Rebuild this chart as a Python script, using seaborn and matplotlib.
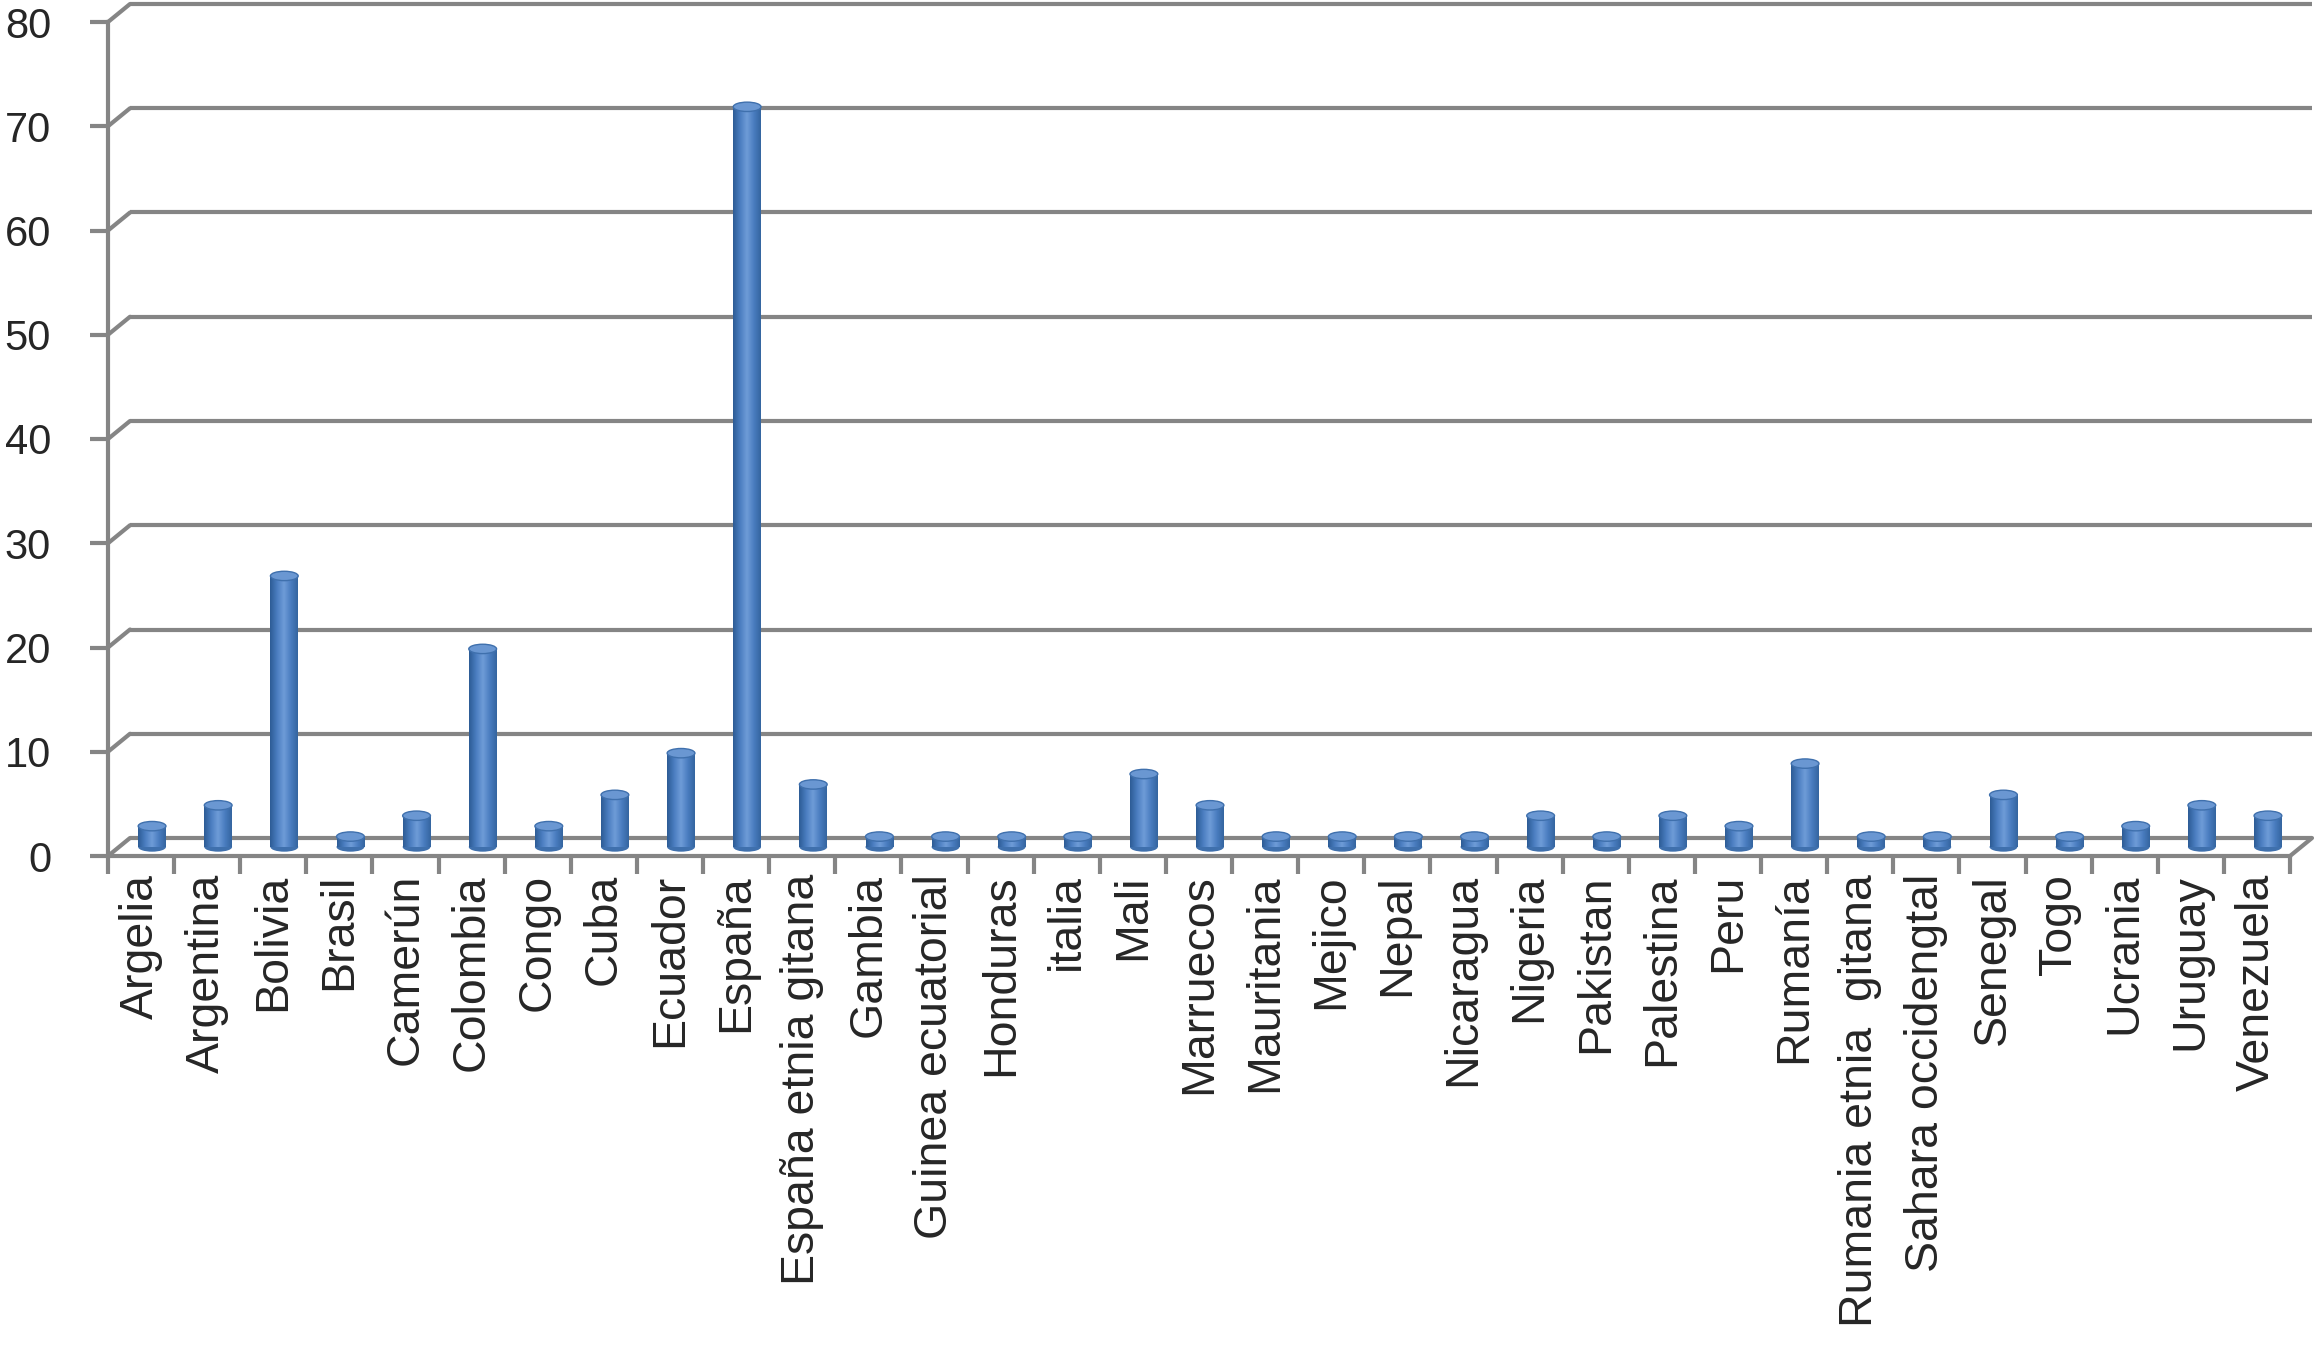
import numpy as np
import pandas as pd
import matplotlib
matplotlib.use('Agg')
import matplotlib.pyplot as plt
import seaborn as sns
from matplotlib.patches import Ellipse
from matplotlib.transforms import ScaledTranslation
from matplotlib.colors import LinearSegmentedColormap

# data
countries = ['Argelia', 'Argentina', 'Bolivia', 'Brasil', 'Camerún', 'Colombia', 'Congo',
             'Cuba', 'Ecuador', 'España', 'España etnia gitana', 'Gambia', 'Guinea ecuatorial',
             'Honduras', 'italia', 'Mali', 'Marruecos', 'Mauritania', 'Mejico', 'Nepal',
             'Nicaragua', 'Nigeria', 'Pakistan', 'Palestina', 'Peru', 'Rumanía',
             'Rumania etnia  gitana', 'Sahara occidengtal', 'Senegal', 'Togo', 'Ucrania',
             'Uruguay', 'Venezuela']
counts = [2, 4, 26, 1, 3, 19, 2, 5, 9, 71, 6, 1, 1, 1, 1, 7, 4, 1, 1, 1, 1, 3, 1, 3, 2, 8,
          1, 1, 5, 1, 2, 4, 3]
y_ticks = [0, 10, 20, 30, 40, 50, 60, 70, 80]

df = pd.DataFrame({'country': countries, 'count': counts})

sns.set_style('white')
plt.rcParams['font.family'] = ['Liberation Sans', 'DejaVu Sans']

W, H = 2323, 1349
fig = plt.figure(figsize=(W / 100, H / 100), dpi=100)
x_left, x_right, y_floor, y_top = 108, 2290, 856, 22
ax = fig.add_axes([x_left / W, 1 - y_floor / H, (x_right - x_left) / W, (y_floor - y_top) / H])

n = len(countries)
ax.set_xlim(-0.5, n - 0.5)
ax.set_ylim(0, 80)

# depth of the 3d "wall": pixel offset converted to data units
px_cat = (x_right - x_left) / n
px_unit = (y_floor - y_top) / 80
dx = 22 / px_cat
dy = 18 / px_unit

grey = '#858585'
lw = 3.0

# back wall gridlines + diagonal connectors
for t in y_ticks:
    ax.plot([-0.5 + dx, n - 0.5 + dx], [t + dy, t + dy], color=grey, lw=lw,
            clip_on=False, zorder=1, solid_capstyle='butt')
    ax.plot([-0.5, -0.5 + dx], [t, t + dy], color=grey, lw=lw, clip_on=False, zorder=1)
# right edge of the floor
ax.plot([n - 0.5, n - 0.5 + dx], [0, dy], color=grey, lw=lw, clip_on=False, zorder=1)

# bars, placed in the middle of the depth
sns.barplot(data=df, x='country', y='count', color='#4F81BD', width=0.42, ax=ax,
            saturation=1, zorder=3)
shift = ax.transData + ScaledTranslation(11 / 100, 9 / 100, fig.dpi_scale_trans)
cyl = LinearSegmentedColormap.from_list('cyl', ['#2d5c96', '#4a7dc0', '#6f9cd8', '#4a7dc0', '#3465a0'])
grad = np.linspace(0, 1, 64).reshape(1, -1)
for p in list(ax.patches):
    x0, w, h = p.get_x(), p.get_width(), p.get_height()
    p.set_visible(False)
    im = ax.imshow(grad, cmap=cyl, aspect='auto', extent=[x0, x0 + w, 0, h],
                   zorder=3, interpolation='bilinear')
    im.set_transform(shift)
    im.set_clip_on(False)
    cap = Ellipse((x0 + w / 2, h), w, 0.9, facecolor='#6a97d2', edgecolor='#3f70ad',
                  lw=1, zorder=4, transform=shift)
    ax.add_patch(cap)
    base = Ellipse((x0 + w / 2, 0), w, 0.9, facecolor='#3f70ad', edgecolor='none',
                   zorder=2.9, transform=shift)
    ax.add_patch(base)
ax.set_xlim(-0.5, n - 0.5)
ax.set_ylim(0, 80)

# front axes
sns.despine(ax=ax, top=True, right=True)
for s in ['left', 'bottom']:
    ax.spines[s].set_color(grey)
    ax.spines[s].set_linewidth(lw)
    ax.spines[s].set_zorder(5)

ax.set_yticks(y_ticks)
ax.set_yticklabels([str(t) for t in y_ticks], fontsize=30)
ax.tick_params(axis='y', length=13, width=lw, color=grey, pad=28, direction='out', left=True)

ax.set_xticks(range(n))
ax.set_xticklabels(countries, rotation=90, fontsize=33.5, va='top', ha='center')
ax.set_xticks(np.arange(-0.5, n, 1), minor=True)
ax.tick_params(axis='x', which='major', length=0, pad=13)
ax.tick_params(axis='x', which='minor', length=13, width=lw, color=grey, direction='out', bottom=True)

ax.set_xlabel('')
ax.set_ylabel('')
ax.grid(False)

fig.savefig('out.png', dpi=100)
